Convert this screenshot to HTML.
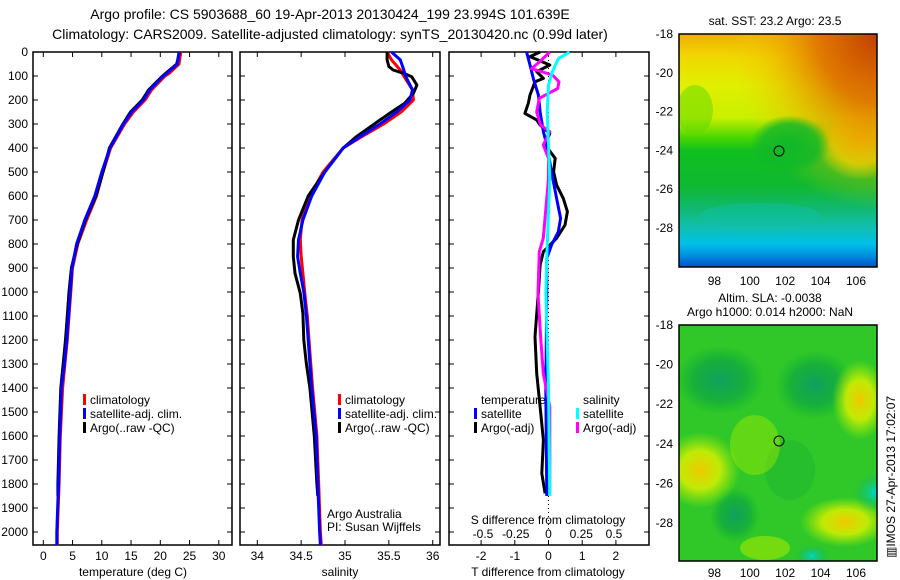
<!DOCTYPE html>
<html><head><meta charset="utf-8"><style>
html,body{margin:0;padding:0;background:#fff;}
svg{display:block;font-family:"Liberation Sans",sans-serif;}
</style></head><body>
<svg id="fig" width="900" height="580" viewBox="0 0 900 580" xmlns="http://www.w3.org/2000/svg">
<defs>
<linearGradient id="sstV" x1="0" y1="0" x2="0" y2="1">
<stop offset="0" stop-color="#f0b000"/><stop offset="0.1" stop-color="#f0d800"/><stop offset="0.22" stop-color="#e0f000"/><stop offset="0.36" stop-color="#c8f000"/><stop offset="0.44" stop-color="#50d800"/><stop offset="0.5" stop-color="#10c020"/><stop offset="0.65" stop-color="#10b830"/><stop offset="0.75" stop-color="#10b870"/><stop offset="0.83" stop-color="#10c0b0"/><stop offset="0.9" stop-color="#00c0e8"/><stop offset="0.95" stop-color="#0090e0"/><stop offset="1" stop-color="#0050c8"/>
</linearGradient>
<radialGradient id="sstOr" cx="1" cy="0" r="0.75"><stop offset="0" stop-color="#c04000" stop-opacity="1"/><stop offset="0.4" stop-color="#e07000" stop-opacity="0.9"/><stop offset="0.75" stop-color="#f0b000" stop-opacity="0.4"/><stop offset="1" stop-color="#f0d000" stop-opacity="0"/></radialGradient>
<radialGradient id="yb"><stop offset="0" stop-color="#f0c800"/><stop offset="0.5" stop-color="#d8f000" stop-opacity="0.85"/><stop offset="1" stop-color="#b0f000" stop-opacity="0"/></radialGradient>
<radialGradient id="yr"><stop offset="0" stop-color="#f0c000"/><stop offset="0.6" stop-color="#f0e000" stop-opacity="0.8"/><stop offset="1" stop-color="#e0f000" stop-opacity="0"/></radialGradient>
<radialGradient id="gb"><stop offset="0" stop-color="#10a060"/><stop offset="0.6" stop-color="#10a840" stop-opacity="0.75"/><stop offset="1" stop-color="#10b030" stop-opacity="0"/></radialGradient>
<radialGradient id="cb"><stop offset="0" stop-color="#00d8c8"/><stop offset="1" stop-color="#10b050" stop-opacity="0"/></radialGradient>
<radialGradient id="gg"><stop offset="0" stop-color="#10b828"/><stop offset="0.7" stop-color="#10b828" stop-opacity="0.8"/><stop offset="1" stop-color="#10b828" stop-opacity="0"/></radialGradient>
<clipPath id="m1c"><rect x="679" y="34" width="198" height="233"/></clipPath>
<clipPath id="m2c"><rect x="679" y="325" width="198" height="236"/></clipPath>
</defs>
<text x="330" y="19" font-size="14" text-anchor="middle">Argo profile: CS 5903688_60 19-Apr-2013 20130424_199 23.994S 101.639E</text>
<text x="330" y="39" font-size="14" text-anchor="middle">Climatology: CARS2009. Satellite-adjusted climatology: synTS_20130420.nc (0.99d later)</text>
<g id="axes"></g>
<g id="marks"></g>
<g clip-path="url(#m1c)">
<rect x="679" y="34" width="198" height="233" fill="url(#sstV)"/>
<ellipse cx="860" cy="140" rx="45" ry="40" fill="url(#yr)"/>
<rect x="679" y="34" width="198" height="233" fill="url(#sstOr)"/>
<ellipse cx="790" cy="145" rx="40" ry="30" fill="url(#gg)"/>
<ellipse cx="695" cy="110" rx="18" ry="25" fill="#60d800" opacity="0.5"/>
<ellipse cx="760" cy="215" rx="60" ry="12" fill="#10c0a0" opacity="0.5"/>
</g>
<g clip-path="url(#m2c)">
<rect x="679" y="325" width="198" height="236" fill="#30c828"/>
<ellipse cx="720" cy="380" rx="45" ry="35" fill="url(#gb)"/>
<ellipse cx="815" cy="385" rx="40" ry="35" fill="url(#gb)"/>
<ellipse cx="790" cy="470" rx="25" ry="30" fill="#20b830" opacity="0.6"/>
<ellipse cx="735" cy="515" rx="25" ry="28" fill="url(#gb)"/>
<ellipse cx="700" cy="470" rx="40" ry="38" fill="url(#yb)"/>
<ellipse cx="755" cy="445" rx="25" ry="30" fill="#a0e800" opacity="0.45"/>
<ellipse cx="860" cy="400" rx="28" ry="40" fill="url(#yb)"/>
<ellipse cx="845" cy="522" rx="45" ry="25" fill="url(#yb)"/>
<ellipse cx="875" cy="492" rx="22" ry="20" fill="url(#cb)"/>
<ellipse cx="812" cy="556" rx="18" ry="12" fill="url(#cb)"/>
<ellipse cx="765" cy="548" rx="25" ry="12" fill="#a0e800" opacity="0.6"/>
</g>
<rect x="679" y="34" width="198" height="233" fill="none" stroke="#000" stroke-width="1.5"/>
<rect x="679" y="325" width="198" height="236" fill="none" stroke="#000" stroke-width="1.5"/>
<circle cx="779" cy="151" r="5" fill="none" stroke="#000"/>
<circle cx="779" cy="441" r="5" fill="none" stroke="#000"/>
<text x="775" y="25" font-size="12" text-anchor="middle">sat. SST: 23.2 Argo: 23.5</text>
<text x="770" y="302" font-size="12" text-anchor="middle">Altim. SLA: -0.0038</text>
<text x="770" y="316" font-size="12" text-anchor="middle">Argo h1000: 0.014 h2000: NaN</text>
<text transform="translate(895,558) rotate(-90)" font-size="12">▥IMOS 27-Apr-2013 17:02:07</text>
</svg>
<script>
// ---- data ----
const tempDepth=[0,50,89,100,158,200,250,300,400,500,600,700,800,900,1000,1100,1200,1300,1400,1600,1800,2000,2055];
const tempClim=[23.5,23.2,21.5,20.8,18.5,17.4,15.4,13.9,11.5,10.2,9.1,7.4,5.9,5.0,4.7,4.4,4.1,3.7,3.3,2.9,2.7,2.4,2.4];
const tempSat=[23.2,22.9,21.1,20.5,18.2,17.1,15.1,13.7,11.4,10.0,8.8,7.1,5.7,4.9,4.6,4.3,4.0,3.6,3.1,2.8,2.6,2.3,2.3];
const tempArgoDepth=[0,50,89,100,158,200,250,300,400,500,600,700,800,900,1000,1100,1200,1300,1400,1600,1800,1850];
const tempArgo=[23.3,22.8,20.9,20.4,18.0,16.9,14.9,13.6,11.3,10.2,9.0,7.2,5.8,4.8,4.4,4.1,3.8,3.4,3.0,2.7,2.5,2.5];
const salDepth=[0,33,75,100,158,200,250,300,353,400,500,600,700,783,853,922,1000,1100,1200,1300,1400,1600,1800,2000,2055];
const salClim=[35.48,35.53,35.63,35.67,35.77,35.78,35.64,35.44,35.19,34.98,34.75,34.60,34.51,34.49,34.50,34.52,34.54,34.57,34.59,34.61,34.63,34.68,34.70,34.72,34.73];
const salSat=[35.53,35.63,35.67,35.69,35.77,35.74,35.59,35.40,35.17,34.98,34.77,34.62,34.52,34.47,34.46,34.49,34.53,34.56,34.58,34.60,34.62,34.67,34.69,34.71,34.72];
const salArgoDepth=[0,33,61,75,89,103,138,172,214,250,283,353,400,500,600,700,783,853,922,1006,1089,1200,1300,1400,1600,1800,1850];
const salArgo=[35.48,35.48,35.50,35.55,35.67,35.76,35.82,35.78,35.68,35.53,35.40,35.13,34.98,34.77,34.58,34.47,34.41,34.41,34.43,34.49,34.52,34.53,34.56,34.60,34.65,34.68,34.69];
const tDiffArgoDepth=[0,19,54,82,110,124,179,214,256,283,304,339,387,443,499,554,610,665,721,776,832,888,1000,1186,1339,1478,1617,1756,1839];
const tDiffArgo=[-0.25,-0.55,0.04,-0.35,-0.15,-0.40,-0.55,-0.6,-0.7,-0.35,-0.25,0.04,-0.1,0.2,0.15,0.24,0.44,0.56,0.49,0.24,-0.15,-0.25,-0.3,-0.4,-0.35,-0.25,-0.15,-0.2,-0.1];
const tDiffSatDepth=[0,54,110,179,250,332,387,499,610,693,749,804,860,1006,1400,1850];
const tDiffSat=[-0.65,-0.55,-0.45,-0.3,-0.25,-0.15,-0.05,0.09,0.24,0.36,0.29,0.09,-0.05,-0.05,-0.08,-0.05];
const sDiffSatDepth=[0,28,82,138,250,387,527,804,1006,1400,1850];
const sDiffSat=[0.16,0.075,0.03,0.0,-0.01,0,0.01,-0.01,-0.02,0.0,0.01];
const sDiffArgoDepth=[0,42,69,96,124,152,193,250,304,332,387,443,527,776,832,1006,1186,1339,1478,1839];
const sDiffArgo=[0.01,-0.07,-0.13,0.03,0.08,0.07,-0.07,-0.09,-0.06,0.01,-0.04,0,0,-0.04,-0.07,-0.08,-0.06,-0.04,0.01,0.01];
const depthTicks=[0,100,200,300,400,500,600,700,800,900,1000,1100,1200,1300,1400,1500,1600,1700,1800,1900,2000];
const tempTicks=[0,5,10,15,20,25,30];
const salTicks=[34,34.5,35,35.5,36];
const tDiffTicks=[-2,-1,0,1,2];
const sDiffTicks=[-0.5,-0.25,0,0.25,0.5];
const sDiffLabels=['-0.5','-0.25','0','0.25','0.5'];
const latTicks=[-18,-20,-22,-24,-26,-28];
const lonTicks=[98,100,102,104,106];

// ---- scales ----
const Y=d=>52+d*0.24;
const XT=t=>43.3+t*5.85;
const XS=s=>257.3+(s-34)*87.7;
const XTD=t=>548.5+t*33.7;
const XSD=s=>548.5+s*131;
const NS='http://www.w3.org/2000/svg';
const axes=document.getElementById('axes'), marks=document.getElementById('marks');
function mk(tag,attrs,parent){const e=document.createElementNS(NS,tag);for(const k in attrs)e.setAttribute(k,attrs[k]);parent.appendChild(e);return e;}
const panels=[{x0:33,x1:232,n:'temperature-panel'},{x0:240,x1:440,n:'salinity-panel'},{x0:449,x1:649,n:'difference-panel'}];
const yTop=52,yBot=545;
panels.forEach(p=>{
  const r=mk('rect',{x:p.x0,y:yTop,width:p.x1-p.x0,height:yBot-yTop,fill:'none',stroke:'#000','stroke-width':1.5},axes);
  
  
  depthTicks.forEach(d=>{
    mk('line',{x1:p.x0,x2:p.x0+5,y1:Y(d),y2:Y(d),stroke:'#000'},axes);
    mk('line',{x1:p.x1,x2:p.x1-5,y1:Y(d),y2:Y(d),stroke:'#000'},axes);
  });
});
depthTicks.forEach(d=>{
  const t=mk('text',{x:28,y:Y(d)+4,'font-size':12,'text-anchor':'end'},axes);t.textContent=d;
  
  
});
function xTicks(vals,fx,labelY,fmt,top){
  vals.forEach(v=>{
    const x=fx(v);
    mk('line',{x1:x,x2:x,y1:yBot,y2:yBot-5,stroke:'#000'},axes);
    if(top) mk('line',{x1:x,x2:x,y1:yTop,y2:yTop+5,stroke:'#000'},axes);
    const t=mk('text',{x:x,y:labelY,'font-size':12,'text-anchor':'middle'},axes);t.textContent=fmt(v);
    
    
  });
}
xTicks(tempTicks,XT,560,v=>v,true);
xTicks(salTicks,XS,560,v=>v,true);
xTicks(tDiffTicks,XTD,560,v=>v,true);
sDiffTicks.forEach((v,i)=>{const t=mk('text',{x:XSD(v),y:538,'font-size':12,'text-anchor':'middle'},axes);t.textContent=sDiffLabels[i];
  
  });
function lbl(txt,x,y,name,anchor){const t=mk('text',{x:x,y:y,'font-size':12,'text-anchor':anchor||'start'},axes);t.textContent=txt;
  
  return t;}
lbl('temperature (deg C)',133,576,'x-axis-title-temperature','middle');
lbl('salinity',340,576,'x-axis-title-salinity','middle');
lbl('T difference from climatology',548,576,'x-axis-title-t-diff','middle');
lbl('S difference from climatology',548,524,'s-diff-axis-title','middle');
lbl('Argo Australia',327,518,'credit-argo-australia');
lbl('PI: Susan Wijffels',327,531,'credit-pi');
mk('line',{x1:XTD(0),x2:XTD(0),y1:Y(0),y2:Y(2000),stroke:'#000','stroke-dasharray':'1,3'},axes);
latTicks.forEach(v=>{
  [[34,19.4],[325,19.8]].forEach(m=>{const y=m[0]+(-18-v)*m[1];
    mk('line',{x1:679,x2:684,y1:y,y2:y,stroke:'#000'},axes);mk('line',{x1:877,x2:872,y1:y,y2:y,stroke:'#000'},axes);
    lbl(String(v),673,y+4,'lat-tick-label','end');});
});
lonTicks.forEach(v=>{const x=679+(v-96)*17.7;
  [[267,285],[561,577]].forEach(m=>{mk('line',{x1:x,x2:x,y1:m[0],y2:m[0]-5,stroke:'#000'},axes);lbl(String(v),x,m[1],'lon-tick-label','middle');});
});
function series(ds,vs,fx,color,name,w){
  const pts=ds.map((d,i)=>fx(vs[i]).toFixed(1)+','+Y(d).toFixed(1)).join(' ');
  const pl=mk('polyline',{points:pts,fill:'none',stroke:color,'stroke-width':w||3,'stroke-linejoin':'round'},marks);
  
  
}
series(tempDepth,tempClim,XT,'#ff0000','temp-climatology-line');
series(tempArgoDepth,tempArgo,XT,'#000000','temp-argo-line');
series(tempDepth,tempSat,XT,'#0000ff','temp-satellite-line');
series(salDepth,salClim,XS,'#ff0000','sal-climatology-line');
series(salArgoDepth,salArgo,XS,'#000000','sal-argo-line');
series(salDepth,salSat,XS,'#0000ff','sal-satellite-line');
series(tDiffArgoDepth,tDiffArgo,XTD,'#000000','t-diff-argo-line');
series(tDiffSatDepth,tDiffSat,XTD,'#0000ff','t-diff-satellite-line');
series(sDiffArgoDepth,sDiffArgo,XSD,'#ff00ff','s-diff-argo-line');
series(sDiffSatDepth,sDiffSat,XSD,'#00ffff','s-diff-satellite-line');
function leg(x,y,color,txt,name){
  const r=mk('rect',{x:x,y:y-10,width:3,height:11,fill:color},axes);
  
  
  lbl(txt,x+7,y,name+'-label');
}
leg(83,404,'#ff0000','climatology','legend-t-clim');
leg(83,418,'#0000ff','satellite-adj. clim.','legend-t-sat');
leg(83,432,'#000000','Argo(..raw -QC)','legend-t-argo');
leg(338,404,'#ff0000','climatology','legend-s-clim');
leg(338,418,'#0000ff','satellite-adj. clim.','legend-s-sat');
leg(338,432,'#000000','Argo(..raw -QC)','legend-s-argo');
lbl('temperature',481,404,'legend-temperature-heading');
lbl('salinity',583,404,'legend-salinity-heading');
leg(474,418,'#0000ff','satellite','legend-td-sat');
leg(474,432,'#000000','Argo(-adj)','legend-td-argo');
leg(576,418,'#00ffff','satellite','legend-sd-sat');
leg(576,432,'#ff00ff','Argo(-adj)','legend-sd-argo');
</script>
</body></html>
